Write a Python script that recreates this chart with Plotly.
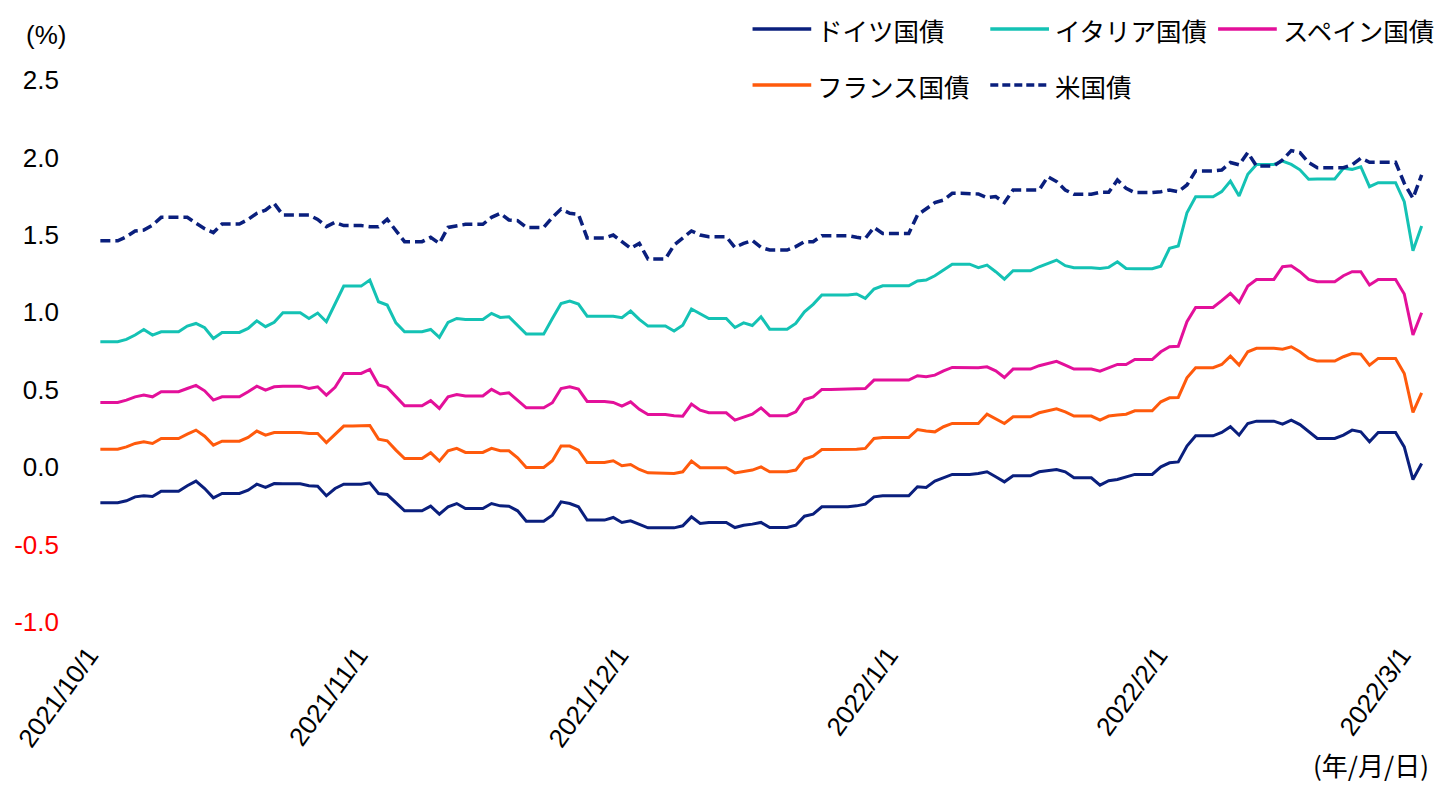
import pandas as pd
import plotly.graph_objects as go

# ---------------- data (daily, 2021/10/1 - 2022/3/2; weekends repeat the Friday value) ----------------
start_date = "2021-10-01"

germany = [
    -0.23, -0.23, -0.23,
    -0.217, -0.192, -0.185, -0.19, -0.155, -0.155, -0.155,
    -0.12, -0.09, -0.138, -0.198, -0.17, -0.17, -0.17,
    -0.149, -0.11, -0.131, -0.106, -0.108, -0.108, -0.108,
    -0.12, -0.123, -0.185, -0.138, -0.11, -0.11, -0.11,
    -0.101, -0.17, -0.177, -0.23, -0.282, -0.282, -0.282,
    -0.252, -0.304, -0.256, -0.235, -0.267, -0.267, -0.267,
    -0.235, -0.25, -0.252, -0.282, -0.349, -0.349, -0.349,
    -0.31, -0.224, -0.235, -0.256, -0.342, -0.342, -0.342,
    -0.325, -0.357, -0.347, -0.37, -0.392, -0.392, -0.392,
    -0.392, -0.379, -0.321, -0.364, -0.357, -0.357, -0.357,
    -0.39, -0.375, -0.368, -0.357, -0.39, -0.39, -0.39,
    -0.375, -0.317, -0.304, -0.256, -0.256, -0.256, -0.256,
    -0.25, -0.239, -0.192, -0.185, -0.185, -0.185, -0.185,
    -0.127, -0.131, -0.09, -0.067, -0.047, -0.047, -0.047,
    -0.041, -0.03, -0.062, -0.095, -0.056, -0.056, -0.056,
    -0.03, -0.024, -0.015, -0.03, -0.069, -0.069, -0.069,
    -0.116, -0.088, -0.08, -0.062, -0.047, -0.047, -0.047,
    0.002, 0.028, 0.034, 0.136, 0.202, 0.202, 0.202,
    0.224, 0.261, 0.207, 0.282, 0.297, 0.297, 0.297,
    0.278, 0.304, 0.275, 0.232, 0.185, 0.185, 0.185,
    0.207, 0.239, 0.228, 0.164, 0.224, 0.224, 0.224,
    0.131, -0.08, 0.024,
]

italy = [
    0.81, 0.81, 0.81,
    0.825, 0.853, 0.889, 0.853, 0.874, 0.874, 0.874,
    0.911, 0.928, 0.9, 0.831, 0.87, 0.87, 0.87,
    0.896, 0.945, 0.907, 0.935, 0.997, 0.997, 0.997,
    0.96, 0.995, 0.939, 1.053, 1.169, 1.169, 1.169,
    1.208, 1.068, 1.047, 0.932, 0.874, 0.874, 0.874,
    0.889, 0.838, 0.935, 0.96, 0.954, 0.954, 0.954,
    0.993, 0.967, 0.971, 0.917, 0.859, 0.859, 0.859,
    0.96, 1.057, 1.072, 1.053, 0.975, 0.975, 0.975,
    0.975, 0.965, 1.008, 0.954, 0.911, 0.911, 0.911,
    0.879, 0.917, 1.021, 0.993, 0.96, 0.96, 0.96,
    0.902, 0.932, 0.915, 0.971, 0.891, 0.891, 0.891,
    0.928, 1.003, 1.051, 1.111, 1.111, 1.111, 1.111,
    1.118, 1.09, 1.15, 1.171, 1.171, 1.171, 1.171,
    1.202, 1.208, 1.236, 1.273, 1.311, 1.311, 1.311,
    1.288, 1.305, 1.262, 1.214, 1.268, 1.268, 1.268,
    1.294, 1.316, 1.337, 1.301, 1.288, 1.288, 1.288,
    1.283, 1.29, 1.326, 1.283, 1.281, 1.281, 1.281,
    1.298, 1.413, 1.428, 1.643, 1.746, 1.746, 1.746,
    1.779, 1.847, 1.751, 1.891, 1.955, 1.955, 1.955,
    1.977, 1.955, 1.92, 1.859, 1.861, 1.861, 1.861,
    1.93, 1.923, 1.94, 1.811, 1.837, 1.837, 1.837,
    1.714, 1.398, 1.557,
]

spain = [
    0.418, 0.418, 0.418,
    0.433, 0.454, 0.465, 0.454, 0.487, 0.487, 0.487,
    0.508, 0.528, 0.493, 0.433, 0.454, 0.454, 0.454,
    0.487, 0.523, 0.497, 0.519, 0.523, 0.523, 0.523,
    0.508, 0.519, 0.465, 0.515, 0.605, 0.605, 0.605,
    0.631, 0.53, 0.515, 0.454, 0.396, 0.396, 0.396,
    0.429, 0.379, 0.454, 0.469, 0.459, 0.459, 0.459,
    0.502, 0.472, 0.48, 0.433, 0.383, 0.383, 0.383,
    0.416, 0.508, 0.519, 0.504, 0.424, 0.424, 0.424,
    0.418, 0.394, 0.422, 0.373, 0.34, 0.34, 0.34,
    0.332, 0.329, 0.407, 0.368, 0.351, 0.351, 0.351,
    0.304, 0.325, 0.342, 0.383, 0.332, 0.332, 0.332,
    0.357, 0.437, 0.454, 0.502, 0.502, 0.502, 0.502,
    0.506, 0.508, 0.562, 0.562, 0.562, 0.562, 0.562,
    0.59, 0.584, 0.594, 0.622, 0.644, 0.644, 0.644,
    0.642, 0.648, 0.622, 0.579, 0.633, 0.633, 0.633,
    0.655, 0.67, 0.683, 0.659, 0.633, 0.633, 0.633,
    0.62, 0.644, 0.663, 0.663, 0.695, 0.695, 0.695,
    0.745, 0.777, 0.781, 0.939, 1.031, 1.031, 1.031,
    1.075, 1.122, 1.064, 1.169, 1.212, 1.212, 1.212,
    1.294, 1.3, 1.262, 1.212, 1.197, 1.197, 1.197,
    1.236, 1.262, 1.262, 1.176, 1.212, 1.212, 1.212,
    1.118, 0.853, 0.997,
]

france = [
    0.116, 0.116, 0.116,
    0.131, 0.153, 0.164, 0.153, 0.185, 0.185, 0.185,
    0.213, 0.239, 0.2, 0.142, 0.168, 0.168, 0.168,
    0.192, 0.233, 0.207, 0.224, 0.224, 0.224, 0.224,
    0.217, 0.217, 0.159, 0.213, 0.265, 0.265, 0.265,
    0.269, 0.181, 0.17, 0.11, 0.056, 0.056, 0.056,
    0.093, 0.039, 0.106, 0.121, 0.095, 0.095, 0.095,
    0.121, 0.106, 0.106, 0.06, -0.002, -0.002, -0.002,
    0.041, 0.136, 0.136, 0.11, 0.03, 0.03, 0.03,
    0.041, 0.009, 0.017, -0.015, -0.037, -0.037, -0.037,
    -0.041, -0.03, 0.039, -0.004, -0.004, -0.004, -0.004,
    -0.037, -0.026, -0.019, 0.002, -0.03, -0.03, -0.03,
    -0.019, 0.052, 0.071, 0.114, 0.114, 0.114, 0.114,
    0.116, 0.121, 0.185, 0.192, 0.192, 0.192, 0.192,
    0.243, 0.233, 0.228, 0.261, 0.282, 0.282, 0.282,
    0.282, 0.342, 0.314, 0.282, 0.325, 0.325, 0.325,
    0.351, 0.364, 0.377, 0.357, 0.33, 0.33, 0.33,
    0.304, 0.33, 0.336, 0.342, 0.364, 0.364, 0.364,
    0.422, 0.448, 0.45, 0.577, 0.642, 0.642, 0.642,
    0.663, 0.717, 0.659, 0.745, 0.767, 0.767, 0.767,
    0.762, 0.777, 0.745, 0.702, 0.685, 0.685, 0.685,
    0.713, 0.734, 0.73, 0.659, 0.702, 0.702, 0.702,
    0.605, 0.353, 0.48,
]

us = [
    1.462, 1.462, 1.462,
    1.488, 1.525, 1.531, 1.563, 1.613, 1.613, 1.613,
    1.613, 1.575, 1.54, 1.514, 1.57, 1.57, 1.57,
    1.6, 1.639, 1.66, 1.703, 1.628, 1.628, 1.628,
    1.628, 1.6, 1.553, 1.581, 1.56, 1.56, 1.56,
    1.553, 1.553, 1.6, 1.531, 1.456, 1.456, 1.456,
    1.484, 1.445, 1.548, 1.56, 1.568, 1.568, 1.568,
    1.613, 1.639, 1.596, 1.592, 1.548, 1.548, 1.548,
    1.613, 1.667, 1.639, 1.633, 1.48, 1.48, 1.48,
    1.499, 1.456, 1.413, 1.445, 1.344, 1.344, 1.344,
    1.434, 1.477, 1.525, 1.499, 1.488, 1.488, 1.488,
    1.419, 1.445, 1.464, 1.419, 1.402, 1.402, 1.402,
    1.424, 1.456, 1.456, 1.495, 1.495, 1.495, 1.495,
    1.484, 1.477, 1.548, 1.509, 1.509, 1.509, 1.509,
    1.628, 1.667, 1.708, 1.725, 1.768, 1.768, 1.768,
    1.764, 1.74, 1.747, 1.708, 1.79, 1.79, 1.79,
    1.79, 1.876, 1.844, 1.79, 1.762, 1.762, 1.762,
    1.775, 1.775, 1.854, 1.8, 1.773, 1.773, 1.773,
    1.779, 1.79, 1.779, 1.822, 1.913, 1.913, 1.913,
    1.919, 1.967, 1.952, 2.031, 1.945, 1.945, 1.945,
    1.984, 2.044, 2.031, 1.967, 1.934, 1.934, 1.934,
    1.934, 1.952, 1.995, 1.969, 1.969, 1.969, 1.969,
    1.833, 1.736, 1.887,
]

series_names = ["ドイツ国債", "イタリア国債", "スペイン国債", "フランス国債", "米国債"]

month_ticks = ["2021-10-01", "2021-11-01", "2021-12-01", "2022-01-01", "2022-02-01", "2022-03-01"]
month_labels = ["2021/10/1", "2021/11/1", "2021/12/1", "2022/1/1", "2022/2/1", "2022/3/1"]

y_ticks = [-1.0, -0.5, 0.0, 0.5, 1.0, 1.5, 2.0, 2.5]
y_labels = ["-1.0", "-0.5", "0.0", "0.5", "1.0", "1.5", "2.0", "2.5"]

# ---------------- styling ----------------
NAVY = "#0A1F7D"
TEAL = "#14C2B4"
MAGENTA = "#E3109A"
ORANGE = "#FF5A0C"

colors = [NAVY, TEAL, MAGENTA, ORANGE, NAVY]
dashes = ["solid", "solid", "solid", "solid", "10px,5px"]
widths = [3, 3, 3, 3, 3.5]
all_series = [germany, italy, spain, france, us]

W, H = 1456, 785
L, R, T, B = 89, 30, 80, 163
Y_MIN, Y_MAX = -1.0, 2.5
X_RANGE = ["2021-10-01", "2022-03-03"]

dates = pd.date_range(start_date, periods=len(germany), freq="D") + pd.Timedelta(hours=12)

fig = go.Figure()
for name, vals, col, dash, wd in zip(series_names, all_series, colors, dashes, widths):
    fig.add_trace(go.Scatter(
        x=dates, y=vals, name=name, mode="lines",
        line=dict(color=col, width=wd, dash=dash),
        showlegend=False,
    ))

NUM_FONT = "Liberation Sans, Arial, Noto Sans CJK JP, sans-serif"
JP_FONT = "Noto Sans CJK JP, sans-serif"

ytext = [
    f'<span style="color:#FF0000">{t}</span>' if v < 0 else t
    for v, t in zip(y_ticks, y_labels)
]

zero_pos = (0 - Y_MIN) / (Y_MAX - Y_MIN)

fig.update_layout(
    width=W, height=H,
    margin=dict(l=L, r=R, t=T, b=B),
    paper_bgcolor="white", plot_bgcolor="white",
    font=dict(family=NUM_FONT, size=26, color="black"),
    showlegend=False,
    xaxis=dict(
        type="date", range=X_RANGE,
        tickvals=month_ticks, ticktext=month_labels,
        tickangle=-54, tickfont=dict(size=26, family=NUM_FONT),
        ticklabelstandoff=12, ticklabelshift=-7,
        showgrid=False, showline=False, zeroline=False, ticks="",
    ),
    xaxis2=dict(
        type="date", range=X_RANGE, overlaying="x", anchor="free",
        position=zero_pos, side="bottom",
        tickvals=month_ticks, showticklabels=False,
        showline=True, linecolor="black", linewidth=1.5,
        ticks="outside", ticklen=8, tickwidth=1.5, tickcolor="black",
        showgrid=False, zeroline=False,
    ),
    yaxis=dict(
        range=[Y_MIN, Y_MAX], tickvals=y_ticks, ticktext=ytext,
        showgrid=False, showline=False, zeroline=False, ticks="",
        ticklabelstandoff=36, tickfont=dict(size=26, family=NUM_FONT),
    ),
)

# ---------------- manual legend (pixel positions -> paper coordinates) ----------------
plot_w = W - L - R
plot_h = H - T - B


def px(xp):
    return (xp - L) / plot_w


def py(yp):
    return (H - B - yp) / plot_h


legend_items = [
    (series_names[0], colors[0], "solid", 749, 29),
    (series_names[1], colors[1], "solid", 988, 29),
    (series_names[2], colors[2], "solid", 1217, 29),
    (series_names[3], colors[3], "solid", 749, 85),
    (series_names[4], colors[4], "8px,4px", 988, 85),
]
for name, col, dash, x0, yc in legend_items:
    fig.add_shape(
        type="line", xref="paper", yref="paper",
        x0=px(x0), x1=px(x0 + 59), y0=py(yc), y1=py(yc),
        line=dict(color=col, width=3.5, dash=dash),
    )
    fig.add_annotation(
        xref="paper", yref="paper", x=px(x0 + 63), y=py(yc + 1),
        text=name, showarrow=False, xanchor="left", yanchor="middle",
        font=dict(family=JP_FONT, size=25.5, color="black"),
    )

fig.add_annotation(
    xref="paper", yref="paper", x=px(39), y=py(35), text="(%)",
    showarrow=False, xanchor="center", yanchor="middle",
    font=dict(family=NUM_FONT, size=26, color="black"),
)
fig.add_annotation(
    xref="paper", yref="paper", x=px(1371), y=py(764), text="(年/月/日)",
    showarrow=False, xanchor="center", yanchor="middle",
    font=dict(family=JP_FONT, size=26, color="black"),
)

fig.write_html(
    "out.html",
    config={"displayModeBar": False},
    post_script="document.body.style.margin='0px';document.body.style.overflow='hidden';",
)
